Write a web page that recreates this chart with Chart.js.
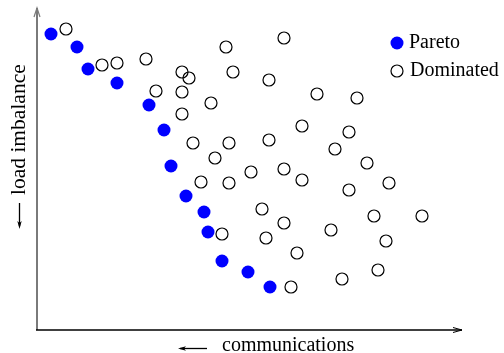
<!DOCTYPE html>
<html>
<head>
<meta charset="utf-8">
<script src="https://cdn.jsdelivr.net/npm/chart.js@4.4.1/dist/chart.umd.min.js"></script>
<style>
  html, body { margin: 0; padding: 0; background: #fff; }
  #wrap { width: 504px; height: 353px; }
</style>
</head>
<body>
<div id="wrap"><canvas id="paretoChart" width="504" height="353"></canvas></div>
<script>
// values (x = communications, y = load imbalance)
var pareto_x = [14, 40, 51, 80, 112, 127, 134, 149, 167, 171, 185, 211, 233];
var pareto_y = [296, 283, 261, 247, 225, 200, 164, 134, 118, 98, 69, 58, 43];

var dominated_x = [29, 65, 80, 109, 145, 152, 119, 145, 145, 174, 189, 196, 232, 247, 280,
  320, 265, 312, 232, 156, 192, 178, 298, 330, 214, 247, 265, 164, 192, 312, 352,
  225, 247, 294, 337, 385, 185, 229, 349, 260, 341, 305, 254];
var dominated_y = [301, 265, 267, 271, 258, 252, 239, 238, 216, 227, 283, 258, 250, 292, 236,
  232, 204, 198, 190, 187, 187, 172, 181, 167, 158, 161, 150, 148, 147, 140, 147,
  121, 107, 100, 114, 114, 96, 92, 89, 77, 60, 51, 43];

var series_labels = ['Pareto', 'Dominated'];
var axis_titles = ['communications', 'load imbalance'];

function toPoints(xs, ys) {
  var pts = [];
  for (var i = 0; i < xs.length; i++) {
    pts.push({ x: xs[i], y: ys[i] });
  }
  return pts;
}

// axes with arrows, axis titles and the legend drawn by hand
var decorations = {
  id: 'decorations',
  afterDatasetsDraw: function (chart) {
    var ctx = chart.ctx;
    var a = chart.chartArea;
    ctx.save();

    // y axis (grey) with arrow at top
    ctx.strokeStyle = '#7a7a7a';
    ctx.lineWidth = 2;
    ctx.beginPath();
    ctx.moveTo(a.left, a.bottom);
    ctx.lineTo(a.left, a.top);
    ctx.stroke();
    ctx.lineWidth = 1.2;
    ctx.beginPath();
    ctx.moveTo(a.left - 3, a.top + 9);
    ctx.lineTo(a.left, a.top);
    ctx.lineTo(a.left + 3, a.top + 9);
    ctx.stroke();

    // x axis (black) with arrow at right
    ctx.strokeStyle = '#000';
    ctx.lineWidth = 1.3;
    ctx.beginPath();
    ctx.moveTo(a.left - 1, a.bottom);
    ctx.lineTo(a.right, a.bottom);
    ctx.stroke();
    ctx.lineWidth = 1;
    ctx.beginPath();
    ctx.moveTo(a.right - 9, a.bottom - 2.5);
    ctx.lineTo(a.right, a.bottom);
    ctx.lineTo(a.right - 9, a.bottom + 2.5);
    ctx.stroke();

    ctx.fillStyle = '#000';

    // x title
    ctx.font = '20px "Liberation Serif"';
    ctx.textBaseline = 'alphabetic';
    ctx.textAlign = 'left';
    ctx.fillText(axis_titles[0], 222, 351);
    ctx.lineWidth = 1.3;
    ctx.beginPath();
    ctx.moveTo(207, 348.5);
    ctx.lineTo(180, 348.5);
    ctx.stroke();
    ctx.beginPath();
    ctx.moveTo(178, 348.5);
    ctx.lineTo(186, 346.3);
    ctx.lineTo(184, 348.5);
    ctx.lineTo(186, 350.7);
    ctx.closePath();
    ctx.fill();

    // y title (rotated)
    ctx.font = '21.5px "Liberation Serif"';
    ctx.save();
    ctx.translate(25, 195);
    ctx.rotate(-Math.PI / 2);
    ctx.fillText(axis_titles[1], 0, 0);
    ctx.restore();
    ctx.beginPath();
    ctx.moveTo(19.5, 203);
    ctx.lineTo(19.5, 226);
    ctx.stroke();
    ctx.beginPath();
    ctx.moveTo(19.5, 229);
    ctx.lineTo(17.3, 221);
    ctx.lineTo(19.5, 223);
    ctx.lineTo(21.7, 221);
    ctx.closePath();
    ctx.fill();

    // legend
    ctx.font = '20px "Liberation Serif"';
    ctx.textBaseline = 'middle';
    ctx.fillStyle = '#0000ff';
    ctx.beginPath();
    ctx.arc(397, 43, 6.5, 0, Math.PI * 2);
    ctx.fill();
    ctx.strokeStyle = '#000';
    ctx.lineWidth = 1.2;
    ctx.beginPath();
    ctx.arc(397, 71, 6, 0, Math.PI * 2);
    ctx.stroke();
    ctx.fillStyle = '#000';
    ctx.fillText(series_labels[0], 409, 43);
    ctx.fillText(series_labels[1], 410, 71);

    ctx.restore();
  }
};

var ctx = document.getElementById('paretoChart').getContext('2d');
var myChart = new Chart(ctx, {
  type: 'scatter',
  data: {
    datasets: [
      {
        label: series_labels[1],
        data: toPoints(dominated_x, dominated_y),
        backgroundColor: 'rgba(255,255,255,0)',
        borderColor: '#000',
        borderWidth: 1.2,
        pointRadius: 6,
        clip: false
      },
      {
        label: series_labels[0],
        data: toPoints(pareto_x, pareto_y),
        backgroundColor: '#0000ff',
        borderColor: '#0000ff',
        borderWidth: 0,
        pointRadius: 6.5,
        clip: false
      }
    ]
  },
  options: {
    responsive: false,
    animation: false,
    layout: { padding: { left: 37, right: 42, top: 8, bottom: 23 } },
    plugins: {
      legend: { display: false },
      tooltip: { enabled: false }
    },
    scales: {
      x: { type: 'linear', min: 0, max: 425, display: false },
      y: { type: 'linear', min: 0, max: 322, display: false }
    }
  },
  plugins: [decorations]
});
</script>
</body>
</html>
